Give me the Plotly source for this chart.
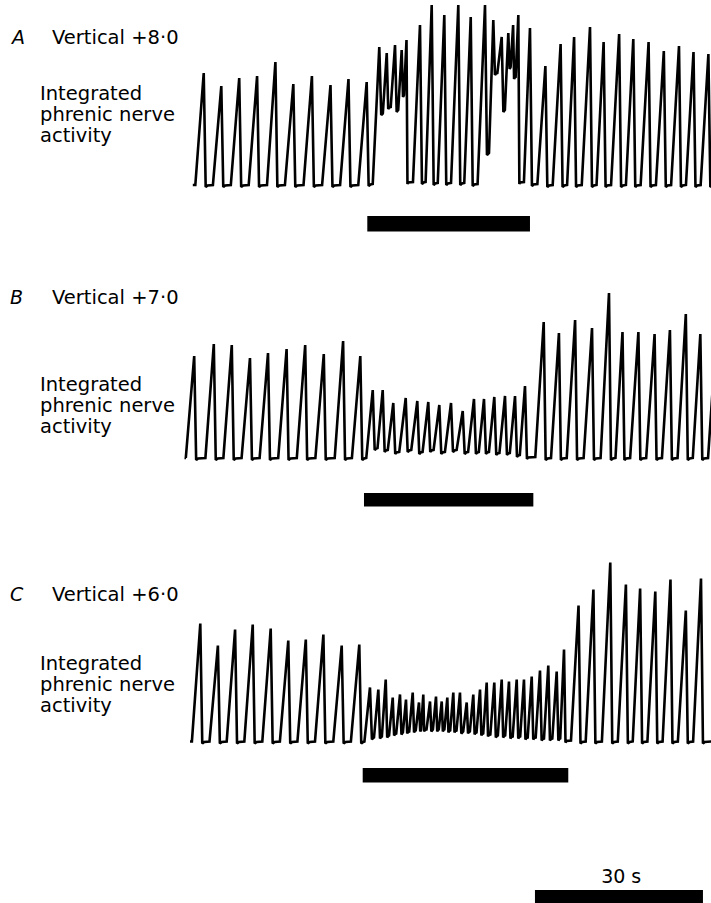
import plotly.graph_objects as go

# ---------------- data ----------------
# time in seconds (0 = left end of the traces), amplitude in arbitrary units (0 = trace baseline)

panels = ["A", "B", "C"]
titles = ["Vertical +8·0", "Vertical +7·0", "Vertical +6·0"]
label_lines = ["Integrated", "phrenic nerve", "activity"]

A_start = 0.5
A_peak_t = [2.45, 5.59, 8.79, 11.98, 15.25, 18.45, 21.77, 25.09, 28.30, 31.55,
            33.80, 35.13, 36.61, 37.80, 38.66,
            41.07, 43.16, 45.41, 47.91, 50.13, 52.68,
            54.16, 55.66, 56.84, 57.70, 58.63, 60.71,
            63.46, 66.18, 68.59, 71.43, 73.86, 76.63, 79.16, 81.89, 84.61, 87.32, 89.91, 92.57]
A_peak_amp = [112, 99, 107, 109, 123, 101, 109, 100, 106, 103,
              138, 132, 140, 135, 145,
              160, 180, 170, 180, 168, 180,
              165, 148, 152, 160, 170, 157,
              119, 141, 148, 158, 143, 151, 146, 143, 134, 139, 133, 131]
A_trough_amp = [0, 0, 0, 0, 0, 0, 0, 0, 0, 1,
                72, 78, 75, 90, 3,
                3, 2, 2, 2, 1, 32,
                112, 75, 118, 108, 3, 1,
                0, 0, 0, 0, 0, 0, 0, 0, 0, 0, 0, 0]
A_end = 93.1

B_start = -0.7
B_peak_t = [0.75, 4.25, 7.46, 10.71, 13.93, 17.25, 20.57, 23.89, 27.34, 30.41,
            32.63, 34.41, 36.30, 38.52, 40.59, 42.55, 44.52, 46.61, 48.70, 50.71,
            52.50, 54.34, 56.25, 58.04, 59.82,
            63.16, 65.88, 68.77, 71.79, 74.82, 77.23, 80.07, 82.96, 85.70, 88.54, 91.13, 94.0]
B_peak_amp = [102, 114, 113, 100, 105, 109, 113, 104, 117, 102,
              68, 68, 55, 60, 57, 56, 53, 55, 47, 59,
              59, 61, 62, 62, 72,
              136, 125, 138, 130, 165, 126, 126, 124, 128, 144, 124, 125]
B_trough_amp = [0, 0, 0, 0, 0, 0, 0, 0, 0, 0,
                10, 8, 6, 8, 6, 8, 6, 8, 6, 6,
                6, 5, 5, 3, 1,
                0, 0, 0, 0, 0, 0, 0, 0, 0, 0, 0, 0]
B_end = 94.5

C_start = 0.0
C_peak_t = [1.84, 4.98, 8.05, 11.20, 14.41, 17.55, 20.68, 23.82, 27.09, 30.23,
            32.14, 33.63, 34.95, 36.20, 37.50, 38.57, 39.77, 40.89, 41.66, 42.86,
            43.93, 44.95, 45.95, 47.02, 48.21, 49.41, 50.59, 51.79, 52.98, 54.34,
            55.66, 56.96, 58.34, 59.64, 61.02, 62.50, 63.98, 65.48, 66.79,
            69.38, 72.04, 75.05, 77.84, 80.38, 83.09, 85.80, 88.54, 91.25]
C_peak_amp = [118, 96, 112, 117, 113, 101, 102, 107, 96, 97,
              54, 52, 62, 44, 47, 42, 49, 39, 47, 40,
              45, 40, 44, 49, 49, 39, 47, 52, 59, 59,
              62, 60, 62, 62, 65, 71, 76, 70, 92,
              136, 152, 179, 157, 153, 150, 162, 131, 163]
C_trough_amp = [0, 0, 0, 0, 0, 0, 0, 0, 0, 0,
                4, 5, 6, 8, 9, 10, 11, 12, 12, 12,
                12, 12, 11, 11, 10, 10, 9, 8, 7, 6,
                6, 5, 5, 4, 4, 3, 3, 3, 1,
                0, 0, 0, 0, 0, 0, 0, 0, 0]
C_end = 93.1

stim_on = [31.66, 31.07, 30.84]
stim_off = [60.71, 61.31, 67.55]

scale_start = 61.6
scale_len = 30
scale_label = "30 s"

# ---------------- layout helpers ----------------
W, H = 711, 903
PX_PER_S = 5.6
T0_PX = 190.0
x_range = [-T0_PX / PX_PER_S, (W - T0_PX) / PX_PER_S]

# vertical placement of the panels (pixels from top)
panel_top = [0, 262, 542]
panel_bot = [260, 540, 903]
panel_base = [185, 458, 741.5]
bar_px = [(216, 231.5), (493, 506.5), (768, 782.5)]
scale_px = (890, 903)
title_base = [44, 304, 601]
label_base = [[100, 121, 142], [391, 412, 433], [670, 691, 712]]

FONT = "DejaVu Sans"
FS = 19.5


def py(px):
    return 1 - px / H


def waveform(start, peak_t, peak_amp, trough_amp, end):
    xs, ys = [start], [0]
    prev_tr = 0
    n = len(peak_t)
    for i in range(n):
        t = peak_t[i]
        period = (t - peak_t[i - 1]) if i > 0 else (peak_t[1] - peak_t[0])
        rise = min(1.5, 0.52 * period)
        fall = min(0.35, 0.2 * period)
        tr = trough_amp[i]
        xs += [t - rise, t, t + fall, t + fall + min(0.35, 0.12 * period)]
        ys += [prev_tr, peak_amp[i], tr - 2, tr - 0.5]
        prev_tr = tr
    if end > xs[-1]:
        xs.append(end)
        ys.append(prev_tr)
    return xs, ys


data = {
    "A": (A_start, A_peak_t, A_peak_amp, A_trough_amp, A_end),
    "B": (B_start, B_peak_t, B_peak_amp, B_trough_amp, B_end),
    "C": (C_start, C_peak_t, C_peak_amp, C_trough_amp, C_end),
}

fig = go.Figure()
shapes = []
annotations = []
layout_axes = {}

for k, name in enumerate(panels):
    yname = "y" if k == 0 else f"y{k + 1}"
    axkey = "yaxis" if k == 0 else f"yaxis{k + 1}"
    xs, ys = waveform(*data[name])
    fig.add_trace(go.Scatter(x=xs, y=ys, mode="lines", xaxis="x", yaxis=yname,
                             line=dict(color="black", width=2.6),
                             hoverinfo="skip", showlegend=False))
    base = panel_base[k]
    layout_axes[axkey] = dict(
        domain=[py(panel_bot[k]), py(panel_top[k])],
        range=[base - panel_bot[k], base - panel_top[k]],
        visible=False, fixedrange=True,
    )
    # stimulation bar
    shapes.append(dict(type="rect", xref="x", yref="paper",
                       x0=stim_on[k], x1=stim_off[k],
                       y0=py(bar_px[k][1]), y1=py(bar_px[k][0]),
                       fillcolor="black", line=dict(width=0)))
    # panel letter and title
    annotations.append(dict(text=f"<i>{name}</i>", xref="paper", yref="paper",
                            x=8 / W, y=py(title_base[k] - 6.7), xanchor="left", yanchor="middle",
                            showarrow=False, font=dict(family=FONT, size=19, color="black")))
    annotations.append(dict(text=titles[k], xref="paper", yref="paper",
                            x=50 / W, y=py(title_base[k] - 6.7), xanchor="left", yanchor="middle",
                            showarrow=False, font=dict(family=FONT, size=FS, color="black")))
    for j, line in enumerate(label_lines):
        annotations.append(dict(text=line, xref="paper", yref="paper",
                                x=38 / W, y=py(label_base[k][j] - 6.7),
                                xanchor="left", yanchor="middle", showarrow=False,
                                font=dict(family=FONT, size=FS, color="black")))

# time scale bar
shapes.append(dict(type="rect", xref="x", yref="paper",
                   x0=scale_start, x1=scale_start + scale_len,
                   y0=py(scale_px[1]), y1=py(scale_px[0]),
                   fillcolor="black", line=dict(width=0)))
fig.add_trace(go.Scatter(x=[scale_start + scale_len / 2 + 0.4], y=[panel_base[2] - 878.5], mode="text",
                         text=[scale_label], textposition="middle center",
                         xaxis="x", yaxis="y3", hoverinfo="skip", showlegend=False,
                         textfont=dict(family=FONT, size=19, color="black")))

fig.update_layout(
    width=W, height=H,
    margin=dict(l=0, r=0, t=0, b=0),
    paper_bgcolor="white", plot_bgcolor="white",
    xaxis=dict(range=x_range, domain=[0, 1], visible=False, fixedrange=True),
    shapes=shapes, annotations=annotations, showlegend=False,
    **layout_axes,
)

fig.write_html("out.html")
